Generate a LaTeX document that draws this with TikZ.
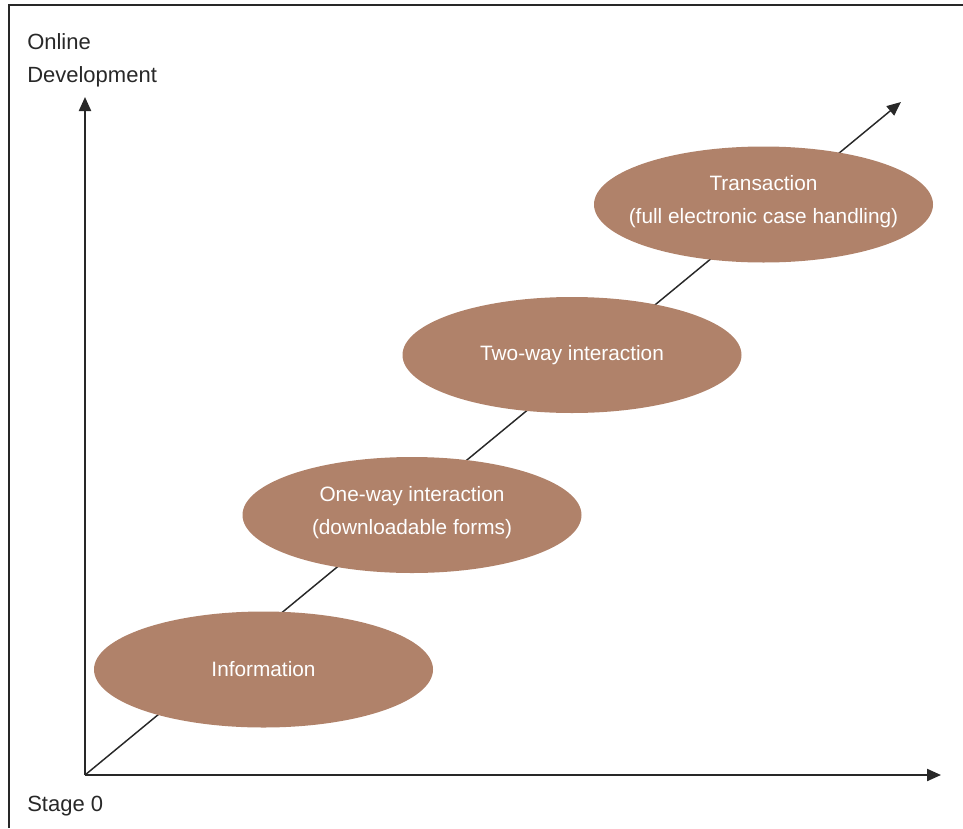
\documentclass[tikz,border=0pt]{standalone}
\usepackage{fontspec}
\setmainfont{Liberation Sans}
\usetikzlibrary{arrows.meta,shapes.geometric}
\definecolor{stagebrown}{RGB}{176,130,106}
\definecolor{axisgray}{RGB}{40,40,40}
\tikzset{
  stagefill/.style={fill=stagebrown, draw=none},
  stagetext/.style={text=white, align=center, inner sep=0pt, font=\fontsize{15.6pt}{24.75pt}\selectfont},
  axisline/.style={draw=axisgray, line width=1.6pt, -{Triangle[length=10.5pt,width=9pt]}},
  diagline/.style={draw=axisgray, line width=1.1pt, -{Triangle[length=10.5pt,width=9pt]}},
  axlabel/.style={text=axisgray, align=left, anchor=north west, inner sep=0pt, font=\fontsize{16.5pt}{24.75pt}\selectfont},
  frameline/.style={draw=axisgray, line width=1.5pt}
}
\begin{document}
\begin{tikzpicture}[x=0.75pt,y=-0.75pt]
\useasboundingbox (0,0) rectangle (963,828);
% frame
\coordinate (fbl) at (9,828);
\coordinate (ftl) at (9,5);
\coordinate (ftr) at (963,5);
\draw[frameline] (fbl) -- (ftl) -- (ftr);
% axes
\coordinate (origin) at (85,775);
\coordinate (ytip) at (85,97);
\coordinate (xtip) at (941,775);
\coordinate (dtip) at (901,102);
\draw[axisline] (origin) -- (ytip);
\draw[axisline] (origin) -- (xtip);
\draw[diagline] (origin) -- (dtip);
% labels
\node[axlabel] (ylab) at (27,33) {Online\\Development};
\node[axlabel] (xlab) at (27,796) {Stage 0};
% stages
\coordinate (c1) at (263.5,669.5);
\coordinate (c2) at (412,515);
\coordinate (c3) at (572,355);
\coordinate (c4) at (763.5,204.5);
\fill[stagefill] (c1) ellipse [x radius=169.5, y radius=58];
\fill[stagefill] (c2) ellipse [x radius=169.5, y radius=58];
\fill[stagefill] (c3) ellipse [x radius=169.5, y radius=58];
\fill[stagefill] (c4) ellipse [x radius=169.5, y radius=58];
\node[stagetext] (info) at (c1) {Information};
\node[stagetext] (oneway) at ([yshift=1.5pt]c2) {One-way interaction\\(downloadable forms)};
\node[stagetext] (twoway) at (c3) {Two-way interaction};
\node[stagetext] (trans) at ([yshift=2pt]c4) {Transaction\\(full electronic case handling)};
\end{tikzpicture}
\end{document}
